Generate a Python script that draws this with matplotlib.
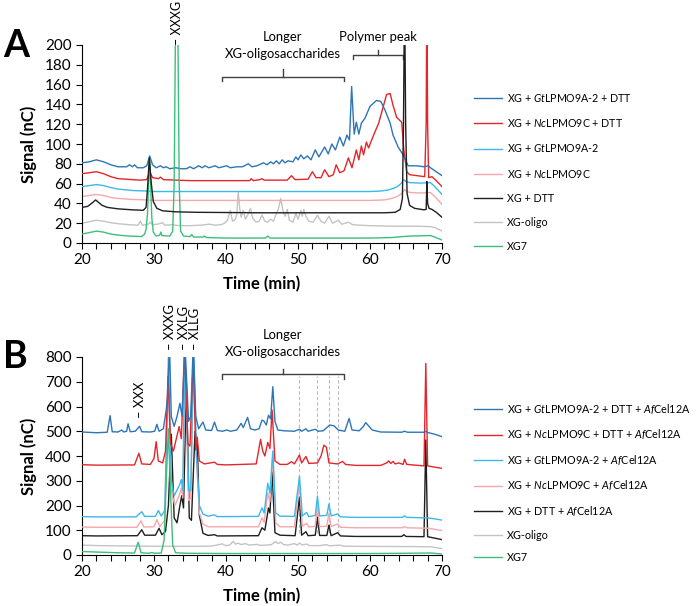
import matplotlib
matplotlib.use("Agg")
import matplotlib.pyplot as plt
from matplotlib import font_manager as fm
from matplotlib.ticker import MultipleLocator

# pick a family that really has an italic face (needed for the species prefixes)
def has_style(name, style):
    return any(f.name == name and f.style == style for f in fm.fontManager.ttflist)

FAMILY = next((n for n in ['Lato', 'Open Sans', 'Noto Sans', 'Roboto', 'Liberation Sans']
               if has_style(n, 'italic')), 'DejaVu Sans')

plt.rcParams['font.family'] = [FAMILY, 'DejaVu Sans']
plt.rcParams['mathtext.fontset'] = 'custom'
plt.rcParams['mathtext.rm'] = FAMILY
plt.rcParams['mathtext.it'] = FAMILY + ':italic'
plt.rcParams['mathtext.bf'] = FAMILY + ':bold'

# ---------------------------------------------------------------
# data: (time in min, signal in nC)
# ---------------------------------------------------------------

# panel A
a_blue = [(20, 81), (21, 82), (22, 84), (23, 82), (24, 79), (25, 77), (26.2, 77), (26.6, 79),
          (27.0, 77), (27.3, 79), (27.7, 76), (28.5, 76), (29.0, 78), (29.4, 88), (29.8, 79),
          (30.3, 76), (30.9, 78), (31.3, 76), (31.7, 77), (32.2, 75), (33.0, 76), (33.8, 75),
          (34.5, 75), (35.0, 77), (35.5, 75), (36.2, 78), (36.7, 76), (37.1, 78), (37.6, 76),
          (38.5, 78), (39.0, 76), (40.1, 78), (40.6, 76), (41.5, 77), (42.3, 77), (43.1, 80),
          (43.6, 77), (44.3, 78), (45.2, 81), (45.7, 79), (46.2, 82), (46.6, 80), (47.0, 83),
          (47.4, 80), (47.8, 84), (48.2, 81), (48.6, 83), (49.3, 82), (49.7, 87), (50.0, 84),
          (50.4, 89), (50.8, 85), (51.3, 88), (51.8, 84), (52.4, 94), (52.9, 87), (53.3, 92),
          (53.7, 97), (54.2, 90), (54.7, 100), (55.2, 94), (55.8, 107), (56.3, 98), (56.8, 109),
          (57.15, 104), (57.45, 158), (57.8, 110), (58.1, 122), (58.45, 110), (58.8, 121),
          (59.3, 126), (60.0, 138), (60.9, 144), (61.5, 143), (62.1, 134), (62.8, 121),
          (63.2, 109), (63.9, 97), (64.6, 89), (65.3, 78), (66.5, 78), (67.5, 77), (68.1, 78),
          (68.4, 76), (69.0, 73), (70.0, 68)]
a_red = [(20, 70), (21, 71), (22, 72), (23, 70), (24, 67), (25, 65), (27, 64), (28, 63.5),
         (29.0, 64), (29.4, 72), (29.8, 66), (30.6, 65), (30.9, 66.5), (31.3, 64), (33, 63.5),
         (35, 63), (40, 63), (43.3, 63), (43.5, 65), (43.8, 63), (44.7, 64), (45.0, 65),
         (45.3, 63.5), (48.5, 63.5), (49.1, 68), (49.6, 64), (51.4, 64.5), (52.0, 72), (52.5, 66),
         (53.2, 66), (53.7, 74), (54.3, 67), (54.9, 69), (55.3, 79), (55.8, 71), (56.4, 73),
         (57.0, 86), (57.5, 76), (58.1, 94), (58.45, 84), (58.8, 98), (59.1, 89), (59.5, 102),
         (59.8, 96), (60.5, 109), (61.2, 121), (61.85, 138), (62.3, 150), (62.8, 151),
         (63.2, 139), (63.7, 127), (64.4, 122), (64.7, 94), (65.1, 72), (65.5, 69), (67.6, 67),
         (67.8, 120), (67.9, 260), (68.0, 120), (68.15, 66), (68.6, 67), (69.2, 63), (70, 57)]
a_cyan = [(20, 57), (21, 58), (22, 59), (23, 58), (24, 56), (25, 54.5), (27, 53), (29, 52.5),
          (30, 52), (35, 52), (45, 52), (55, 52), (60, 52), (61.5, 52.5), (62.5, 53.5),
          (63.2, 55), (63.8, 57), (64.3, 60), (64.7, 64), (65.0, 62), (65.5, 61), (67, 60.5),
          (68.4, 61), (69, 57), (70, 49)]
a_pink = [(20, 47), (21, 48), (22, 49), (23, 48), (24, 46), (25, 45), (27, 44), (29, 43.5),
          (30, 43), (45, 43), (60, 43), (62, 43.5), (63, 45), (63.8, 47), (64.4, 50), (64.8, 54),
          (65.1, 52), (65.6, 51), (67, 50.5), (68.4, 51), (69, 47), (70, 39)]
a_black = [(20, 36), (20.8, 37), (21.5, 41), (21.9, 43.5), (22.3, 41), (22.8, 38), (23.5, 36),
           (25, 34.5), (27, 33.5), (28.5, 33), (28.9, 36), (29.1, 55), (29.35, 86), (29.6, 62),
           (29.9, 42), (30.4, 35), (31.2, 32.5), (33, 31.5), (36, 31), (45, 30.5), (55, 30.5),
           (62, 30.5), (63.5, 31), (64.2, 34), (64.5, 45), (64.65, 120), (64.8, 260),
           (64.95, 120), (65.15, 50), (65.5, 38), (66.2, 35), (67.5, 33.5), (67.8, 34),
           (67.9, 62), (68.0, 40), (68.2, 35), (68.6, 34), (69.2, 31), (70, 26)]
a_gray = [(20, 20), (21, 21.5), (22, 23), (23, 22), (24, 20.5), (25, 19.5), (26.5, 18.5),
          (27.8, 18), (28.1, 22), (28.4, 18), (29.2, 19), (29.5, 21), (29.8, 18.5), (30.5, 19),
          (31.2, 20.5), (31.5, 18), (32.5, 18.5), (33.5, 17.5), (35, 17.5), (36.5, 18),
          (37.7, 19), (38.5, 18), (39.3, 18.5), (39.8, 20), (40.2, 23), (40.6, 33), (40.9, 22),
          (41.3, 24), (41.5, 29), (41.7, 52), (41.9, 35), (42.1, 26), (42.4, 33), (42.7, 24),
          (43.0, 28), (43.4, 35), (43.7, 25), (44.2, 21), (44.6, 22), (45.0, 28), (45.4, 22),
          (45.8, 21), (46.2, 24), (46.6, 22), (46.9, 28), (47.3, 35), (47.6, 45), (47.9, 33),
          (48.2, 27), (48.5, 34), (48.8, 23), (49.3, 21), (49.7, 30), (50.0, 24), (50.4, 33),
          (50.6, 27), (50.8, 34), (51.1, 27), (51.5, 22), (52.1, 21), (52.7, 28), (53.2, 22),
          (53.7, 20), (54.3, 27), (54.8, 20), (55.6, 23), (56.1, 19), (57.0, 21), (57.6, 18.5),
          (58.5, 18), (60, 17.5), (63, 17), (65, 17), (66.5, 17), (68.5, 16.5), (69.2, 15),
          (70, 12)]
a_green = [(20, 9), (21, 10.5), (22, 12), (23, 11), (24, 9), (25, 8), (26.5, 7), (28.3, 6.5),
           (28.7, 9), (28.9, 14), (29.1, 30), (29.25, 60), (29.4, 85), (29.55, 55), (29.7, 25),
           (29.9, 11), (30.3, 7), (30.8, 8), (30.95, 11), (31.1, 7.5), (32.2, 7), (32.6, 12),
           (32.8, 60), (33.0, 230), (33.3, 230), (33.5, 60), (33.7, 12), (34.1, 7), (35.0, 6.5),
           (35.25, 8.5), (35.5, 6), (36.8, 6), (37.0, 7), (37.3, 5.5), (40, 5), (45.5, 5),
           (45.8, 7), (46.1, 5), (55, 5), (60, 5), (63, 5.5), (64.5, 6.5), (65.5, 7), (68.4, 7.5),
           (69, 6), (70, 3)]

# panel B
b_blue = [(20, 497), (22, 494), (23.5, 496), (23.9, 563), (24.2, 498), (25.0, 497), (25.5, 505),
          (25.8, 497), (26.2, 500), (26.4, 530), (26.7, 498), (27.4, 500), (28.0, 520),
          (28.3, 498), (29.5, 497), (30.1, 500), (30.4, 528), (30.7, 500), (31.3, 510),
          (31.7, 586), (31.9, 640), (32.15, 850), (32.4, 560), (32.8, 520), (33.2, 560),
          (33.6, 613), (33.9, 560), (34.3, 850), (34.8, 540), (35.1, 560), (35.45, 850),
          (35.8, 560), (36.2, 510), (36.8, 537), (37.2, 505), (38.0, 503), (38.4, 537),
          (38.8, 503), (39.5, 500), (40.1, 505), (40.6, 500), (41.5, 505), (42.1, 532),
          (42.4, 515), (43.0, 556), (43.4, 510), (44.0, 505), (44.6, 510), (45.0, 545),
          (45.3, 540), (45.6, 525), (45.9, 565), (46.2, 550), (46.5, 680), (46.8, 540),
          (47.2, 505), (48.0, 502), (49.5, 500), (50.2, 508), (50.5, 500), (51.1, 510),
          (51.4, 500), (52.4, 508), (52.8, 500), (53.5, 502), (54.4, 525), (55.0, 522),
          (55.6, 505), (56.5, 500), (57.1, 552), (57.5, 505), (58.5, 502), (59.1, 520),
          (59.4, 535), (59.8, 522), (60.3, 505), (61.5, 497), (64.4, 496), (64.8, 500),
          (65.2, 496), (67.5, 496), (67.8, 500), (68.0, 495), (69, 488), (70, 478)]
b_red = [(20, 365), (22, 363), (27.3, 364), (27.9, 411), (28.3, 368), (29.5, 366), (30.0, 390),
         (30.3, 458), (30.6, 380), (31.2, 372), (31.6, 420), (31.95, 721), (32.3, 450),
         (32.7, 420), (33.1, 470), (33.5, 519), (33.8, 470), (34.25, 850), (34.7, 450),
         (35.0, 440), (35.45, 794), (35.8, 424), (36.0, 477), (36.3, 380), (37.0, 368),
         (38.4, 375), (38.8, 366), (40, 364), (44.2, 368), (44.8, 467), (45.1, 420), (45.4, 400),
         (45.8, 455), (46.1, 430), (46.4, 586), (46.8, 380), (47.5, 366), (48.5, 366),
         (49.1, 377), (49.5, 368), (50.2, 404), (50.5, 372), (51.1, 398), (51.5, 370),
         (52.7, 372), (53.2, 400), (53.6, 444), (53.95, 435), (54.3, 372), (55.5, 368),
         (56.2, 378), (56.6, 366), (58, 362), (61.5, 362), (62.3, 372), (62.6, 380), (62.9, 370),
         (63.2, 378), (63.5, 368), (64.0, 372), (64.6, 366), (64.8, 387), (65.1, 366),
         (67.5, 360), (67.75, 774), (68.0, 360), (69, 355), (70, 350)]
b_cyan = [(20, 155), (22, 154), (27.5, 154), (28.3, 175), (28.7, 156), (30.2, 156), (30.6, 180),
          (31.0, 158), (31.5, 180), (32.0, 800), (32.4, 300), (32.8, 240), (33.5, 280),
          (33.8, 305), (34.0, 260), (34.3, 850), (34.8, 260), (35.1, 260), (35.5, 850),
          (35.9, 400), (36.3, 200), (36.8, 165), (37.5, 157), (38.4, 162), (38.8, 155),
          (44.5, 156), (45.0, 190), (45.3, 170), (45.8, 290), (46.1, 250), (46.5, 420),
          (46.9, 170), (47.5, 157), (49.5, 156), (50.2, 318), (50.6, 158), (51.2, 172),
          (51.5, 155), (52.4, 160), (52.7, 238), (53.0, 158), (54.0, 160), (54.3, 206),
          (54.6, 158), (55.5, 166), (55.9, 154), (58, 152), (64.5, 152), (64.8, 158),
          (65.1, 152), (68, 150), (69, 146), (70, 141)]
b_pink = [(20, 113), (22, 112), (27.6, 112), (28.2, 138), (28.6, 113), (30.0, 114), (30.4, 143),
          (30.8, 115), (31.5, 140), (32.0, 750), (32.4, 260), (32.9, 200), (33.5, 240),
          (33.8, 270), (34.0, 230), (34.3, 820), (34.8, 220), (35.1, 230), (35.5, 780),
          (35.9, 380), (36.3, 170), (36.8, 125), (37.5, 114), (44.5, 114), (45.0, 150),
          (45.3, 132), (45.8, 250), (46.1, 215), (46.5, 400), (46.9, 130), (47.5, 114),
          (49.5, 114), (50.2, 288), (50.6, 116), (51.2, 128), (51.5, 113), (52.4, 116),
          (52.7, 205), (53.0, 115), (54.0, 116), (54.3, 170), (54.6, 115), (55.5, 125),
          (55.9, 112), (58, 110), (64.5, 110), (64.8, 115), (65.1, 110), (68, 108), (69, 104),
          (70, 99)]
b_black = [(20, 78), (22, 77), (27.7, 78), (28.3, 102), (28.7, 80), (30.2, 80), (30.7, 108),
           (31.1, 82), (31.6, 95), (32.0, 200), (32.4, 488), (32.8, 150), (33.2, 130), (33.6, 200),
           (33.85, 240), (34.1, 190), (34.5, 694), (34.9, 150), (35.2, 140), (35.7, 500),
           (36.0, 460), (36.3, 160), (36.8, 88), (37.5, 79), (38.4, 82), (38.8, 77), (44.5, 78),
           (45.0, 110), (45.4, 100), (45.9, 190), (46.1, 170), (46.4, 337), (46.8, 90),
           (47.5, 80), (49.6, 78), (50.2, 234), (50.5, 80), (51.1, 94), (51.4, 78), (52.4, 80),
           (52.7, 152), (53.0, 79), (54.0, 79), (54.3, 121), (54.6, 78), (55.5, 90), (55.9, 77),
           (58, 75), (64.4, 75), (64.7, 82), (65.0, 75), (67.5, 74), (67.75, 465), (68.0, 74),
           (69, 68), (70, 62)]
b_gray = [(20, 40), (22, 38), (25, 37), (28, 36), (31, 35), (35, 35), (38, 36), (39.5, 45),
          (39.9, 38), (40.5, 40), (41.0, 55), (41.3, 44), (41.7, 48), (42.1, 42), (42.7, 46),
          (43.2, 40), (44.3, 43), (44.7, 39), (45.5, 40), (46.3, 42), (46.9, 55), (47.2, 46),
          (47.6, 52), (48.0, 42), (48.6, 40), (49.5, 46), (49.9, 40), (50.2, 48), (50.6, 41),
          (51.2, 44), (51.6, 38), (53.0, 38), (54.0, 42), (54.4, 37), (55.8, 40), (56.3, 36),
          (58, 35), (66, 34), (68.5, 33), (70, 26)]
b_green = [(20, 14), (22, 12), (25, 9), (27.3, 8), (27.8, 52), (28.2, 9), (29.3, 7), (29.7, 10),
           (30.1, 7), (31.0, 8), (31.4, 60), (31.7, 300), (32.0, 510), (32.3, 250), (32.6, 40),
           (33.0, 9), (34.5, 7), (40, 6), (50, 6), (60, 6), (65, 7), (68.5, 8), (70, 4)]
b_guides = [50.2, 52.7, 54.3, 55.6]   # dashed marker lines in B

labels_a = ['XG + $\\mathit{Gt}$LPMO9A-2 + DTT', 'XG + $\\mathit{Nc}$LPMO9C + DTT',
            'XG + $\\mathit{Gt}$LPMO9A-2', 'XG + $\\mathit{Nc}$LPMO9C', 'XG + DTT',
            'XG-oligo', 'XG7']
labels_b = ['XG + $\\mathit{Gt}$LPMO9A-2 + DTT + $\\mathit{Af}$Cel12A',
            'XG + $\\mathit{Nc}$LPMO9C + DTT + $\\mathit{Af}$Cel12A',
            'XG + $\\mathit{Gt}$LPMO9A-2 + $\\mathit{Af}$Cel12A',
            'XG + $\\mathit{Nc}$LPMO9C + $\\mathit{Af}$Cel12A',
            'XG + DTT + $\\mathit{Af}$Cel12A', 'XG-oligo', 'XG7']

colors = ['#2E75B6', '#E3262B', '#3DB8E8', '#F5A8AC', '#1F1F1F', '#C4C4C4', '#3DBF7B']

# ---------------------------------------------------------------
fig = plt.figure(figsize=(7, 6.06), dpi=100)
axA = fig.add_axes([82 / 700, 1 - 243 / 606, 360 / 700, 198 / 606])
axB = fig.add_axes([82 / 700, 1 - 555 / 606, 360 / 700, 198 / 606])


def style(ax, ymax, ystep):
    ax.set_xlim(20, 70)
    ax.set_ylim(0, ymax)
    for s in ['top', 'right']:
        ax.spines[s].set_visible(False)
    for s in ['left', 'bottom']:
        ax.spines[s].set_linewidth(0.8)
    ax.xaxis.set_major_locator(MultipleLocator(10))
    ax.xaxis.set_minor_locator(MultipleLocator(2))
    ax.yaxis.set_major_locator(MultipleLocator(ystep))
    ax.tick_params(which='both', direction='out', length=4, width=0.8, labelsize=11)
    ax.set_xlabel('Time (min)', fontsize=12, fontweight='bold', labelpad=6)
    ax.set_ylabel('Signal (nC)', fontsize=12, fontweight='bold', labelpad=6)


def bracket(ax, t0, t1, y, drop, rise, tmid):
    kw = dict(color='#404040', lw=1, clip_on=False)
    ax.plot([t0, t0, t1, t1], [y - drop, y, y, y - drop], **kw)
    ax.plot([tmid, tmid], [y, y + rise], **kw)


def legend_rows(handles, y_center_px, target_w, pitch_px=24.8):
    """legend at fixed place: scale the font so the widest row is target_w pixels wide"""
    fs, ls = 9.0, 0.9
    leg = None
    for _ in range(4):
        if leg is not None:
            leg.remove()
        fs_px = fs * 100 / 72
        leg = fig.legend(handles=handles, loc='center left',
                         bbox_to_anchor=(474 / 700, 1 - y_center_px / 606),
                         frameon=False, fontsize=fs, handlelength=28 / fs_px,
                         handletextpad=5 / fs_px, labelspacing=ls, borderpad=0,
                         borderaxespad=0)
        fig.canvas.draw()
        boxes = [t.get_window_extent() for t in leg.get_texts()]
        w = max(b.width for b in boxes)
        ys = [(b.y0 + b.y1) / 2 for b in boxes]
        pitch = (ys[0] - ys[-1]) / (len(ys) - 1)
        ls = ls + (pitch_px - pitch) / fs_px
        fs = fs * target_w / w
    return leg


# ---- panel A
series_a = [a_blue, a_red, a_cyan, a_pink, a_black, a_gray, a_green]
z_a = [5, 4, 3, 2, 7, 1, 6]
lines_a = []
for data, col, lab, z in zip(series_a, colors, labels_a, z_a):
    t, s = zip(*data)
    ln, = axA.plot(t, s, color=col, lw=1, label=lab, zorder=z)
    lines_a.append(ln)
style(axA, 200, 20)

axA.text(33.2, 200.5, '– XXXG', rotation=90, ha='center', va='bottom', fontsize=9)
bracket(axA, 39.5, 56.4, 167.5, 3.5, 8, 47.9)
axA.text(47.9, 208, 'Longer', ha='center', va='center', fontsize=9.4)
axA.text(47.9, 191, 'XG-oligosaccharides', ha='center', va='center', fontsize=9.4)
bracket(axA, 57.7, 64.6, 190, 4.5, 4.5, 61.1)
axA.text(61.1, 208, 'Polymer peak', ha='center', va='center', fontsize=9.4)

# ---- panel B
series_b = [b_blue, b_red, b_cyan, b_pink, b_black, b_gray, b_green]
z_b = [6, 5, 4, 3, 2, 1, 7]
lines_b = []
for data, col, lab, z in zip(series_b, colors, labels_b, z_b):
    t, s = zip(*data)
    ln, = axB.plot(t, s, color=col, lw=1, label=lab, zorder=z)
    lines_b.append(ln)
style(axB, 800, 100)

axB.vlines(b_guides, 88, 725, colors='#BBBBBB', linestyles=(0, (3, 2)), lw=0.8, zorder=0.5)
for t, name in zip([28.0, 32.2, 34.1, 35.7], ['– XXX', '– XXXG', '– XXLG', '– XLLG']):
    axB.text(t, 555 if name == '– XXX' else 830, name, rotation=90, ha='center',
             va='bottom', fontsize=9.4)
bracket(axB, 39.4, 56.4, 731, 18, 20, 47.9)
axB.text(47.9, 889, 'Longer', ha='center', va='center', fontsize=9.4)
axB.text(47.9, 820, 'XG-oligosaccharides', ha='center', va='center', fontsize=9.4)

fig.text(0.004, 1 - 46 / 606, 'A', fontsize=27, fontweight='bold', va='center', ha='left')
fig.text(0.004, 1 - 357 / 606, 'B', fontsize=27, fontweight='bold', va='center', ha='left')

legend_rows(lines_a, 172, 126)
legend_rows(lines_b, 482.5, 184)

fig.savefig('out.png', dpi=100)
